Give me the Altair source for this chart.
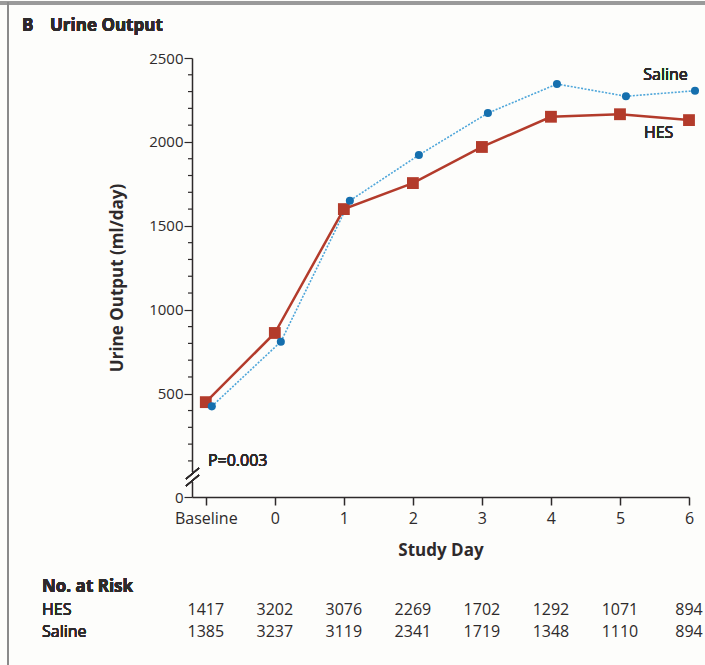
import altair as alt
import pandas as pd

# ---- data ----
days = [-1, 0, 1, 2, 3, 4, 5, 6]          # -1 = Baseline
hes_output = [450, 862, 1600, 1755, 1970, 2150, 2165, 2130]
saline_output = [425, 810, 1650, 1922, 2172, 2345, 2272, 2305]
hes_risk = [1417, 3202, 3076, 2269, 1702, 1292, 1071, 894]
saline_risk = [1385, 3237, 3119, 2341, 1719, 1348, 1110, 894]
y_major = [500, 1000, 1500, 2000, 2500]
y_minor = [v for v in range(100, 2500, 100) if v % 500 != 0]
Y_ZERO = -115   # broken-axis position of the "0" label

hes_df = pd.DataFrame({"day": days, "value": hes_output})
sal_df = pd.DataFrame({"day": days, "value": saline_output})
risk_df = pd.DataFrame({"day": days, "hes": hes_risk, "saline": saline_risk})
minor_df = pd.DataFrame({"value": y_minor})

FONT = "Open Sans"
TXT = "#2e2a2b"
RED = "#b33b2b"
BLUE = "#156fae"
LBLUE = "#4ea6da"
FS = 16    # regular text
FB = 17    # bold text

W, H = 497, 439

xscale = alt.Scale(domain=[-1.2, 6], nice=False, zero=False)
yscale = alt.Scale(domain=[Y_ZERO, 2500], nice=False, zero=False)

xaxis = alt.Axis(
    values=days,
    labelExpr="datum.value == -1 ? 'Baseline' : datum.value",
    title="Study Day", titleFont=FONT, titleFontSize=FB, titleFontWeight="bold",
    titleColor=TXT, titleY=53, titleBaseline="middle",
    labelFont=FONT, labelFontSize=FS, labelColor=TXT, labelPadding=5,
    tickSize=8, tickColor=TXT, domainColor=TXT, domainWidth=1.5, tickWidth=1.5,
    grid=False, labelFlush=False, labelOverlap=False,
)
yaxis = alt.Axis(
    values=[Y_ZERO] + y_major,
    labelExpr=f"datum.value == {Y_ZERO} ? '0' : datum.value",
    title="Urine Output (ml/day)", titleFont=FONT, titleFontSize=FB,
    titleFontWeight="bold", titleColor=TXT, titleX=-75, titleY=H / 2,
    titleBaseline="middle", titleAngle=-90,
    labelFont=FONT, labelFontSize=15, labelColor=TXT, labelPadding=1,
    tickSize=8, tickColor=TXT, domainColor=TXT, domainWidth=1.5, tickWidth=1.2,
    grid=False, labelFlush=False, labelOverlap=False,
)

base_axes = alt.Chart(hes_df).mark_point(opacity=0).encode(
    x=alt.X("day:Q", scale=xscale, axis=xaxis),
    y=alt.Y("value:Q", scale=yscale, axis=yaxis),
)

minor_ticks = alt.Chart(minor_df).mark_rule(color=TXT, strokeWidth=1.2).encode(
    x=alt.value(-4), x2=alt.value(0), y=alt.Y("value:Q", scale=yscale))

hes_line = alt.Chart(hes_df).mark_line(color=RED, strokeWidth=2.5).encode(
    x=alt.X("day:Q", scale=xscale), y=alt.Y("value:Q", scale=yscale))
hes_pts = alt.Chart(hes_df).mark_point(
    shape="square", filled=True, size=140, color=RED, opacity=1).encode(
    x=alt.X("day:Q", scale=xscale), y=alt.Y("value:Q", scale=yscale))

sal_line = alt.Chart(sal_df).mark_line(
    color=LBLUE, strokeWidth=1.6, strokeDash=[2, 1.5], xOffset=6).encode(
    x=alt.X("day:Q", scale=xscale), y=alt.Y("value:Q", scale=yscale))
sal_pts = alt.Chart(sal_df).mark_point(
    shape="circle", filled=True, size=65, color=BLUE, opacity=1, xOffset=6).encode(
    x=alt.X("day:Q", scale=xscale), y=alt.Y("value:Q", scale=yscale))

# axis break marks
brk_cover = alt.Chart(hes_df).mark_rect(color="#fdfdfb").encode(
    x=alt.value(-3), x2=alt.value(3), y=alt.value(414), y2=alt.value(424))
brk1 = alt.Chart(hes_df).mark_rule(color=TXT, strokeWidth=1.2).encode(
    x=alt.value(-6), x2=alt.value(7), y=alt.value(421), y2=alt.value(410))
brk2 = alt.Chart(hes_df).mark_rule(color=TXT, strokeWidth=1.2).encode(
    x=alt.value(-6), x2=alt.value(7), y=alt.value(428), y2=alt.value(417))

txt = dict(font=FONT, fontSize=FS, fontWeight="normal", color=TXT, baseline="middle")
bold = dict(font=FONT, fontSize=FB, fontWeight="bold", color=TXT, baseline="middle")

lbl_sal = alt.Chart(hes_df).mark_text(text="Saline", align="center", **txt).encode(
    x=alt.datum(5.66), y=alt.datum(2400))
lbl_hes = alt.Chart(hes_df).mark_text(text="HES", align="center", **txt).encode(
    x=alt.datum(5.56), y=alt.datum(2052))
lbl_p = alt.Chart(hes_df).mark_text(text="P=0.003", align="left", **txt).encode(
    x=alt.datum(-0.97), y=alt.datum(100))

# title
t_b = alt.Chart(hes_df).mark_text(text="B", align="left", **bold).encode(
    x=alt.value(-170), y=alt.value(-32))
t_main = alt.Chart(hes_df).mark_text(text="Urine Output", align="left", **bold).encode(
    x=alt.value(-142), y=alt.value(-32))

# number at risk table
risk_title = alt.Chart(hes_df).mark_text(text="No. at Risk", align="left", **bold).encode(
    x=alt.value(-150), y=alt.value(529))
risk_hes_lbl = alt.Chart(hes_df).mark_text(text="HES", align="left", **txt).encode(
    x=alt.value(-150), y=alt.value(552))
risk_sal_lbl = alt.Chart(hes_df).mark_text(text="Saline", align="left", **txt).encode(
    x=alt.value(-150), y=alt.value(574))
risk_hes = alt.Chart(risk_df).mark_text(align="center", **txt).encode(
    x=alt.X("day:Q", scale=xscale), y=alt.value(552), text="hes:Q")
risk_sal = alt.Chart(risk_df).mark_text(align="center", **txt).encode(
    x=alt.X("day:Q", scale=xscale), y=alt.value(574), text="saline:Q")

# panel frame (top and left border)
frame_top = alt.Chart(hes_df).mark_rule(color="#9a9a9a", strokeWidth=3).encode(
    x=alt.value(-192), x2=alt.value(520), y=alt.value(-55))
frame_left = alt.Chart(hes_df).mark_rule(color="#8a8a8a", strokeWidth=2).encode(
    x=alt.value(-184), y=alt.value(-56), y2=alt.value(620))

chart = alt.layer(
    base_axes, minor_ticks, brk_cover, brk1, brk2,
    hes_line, sal_line, hes_pts, sal_pts,
    lbl_sal, lbl_hes, lbl_p, t_b, t_main,
    risk_title, risk_hes_lbl, risk_sal_lbl, risk_hes, risk_sal,
    frame_top, frame_left,
).properties(
    width=W, height=H,
    autosize=alt.AutoSizeParams(type="none"),
    padding={"left": 192, "top": 58, "right": 16, "bottom": 168},
    background="#fdfdfb",
).configure_view(stroke=None)

chart.save("out.html", embed_options={"renderer": "svg", "actions": False})
